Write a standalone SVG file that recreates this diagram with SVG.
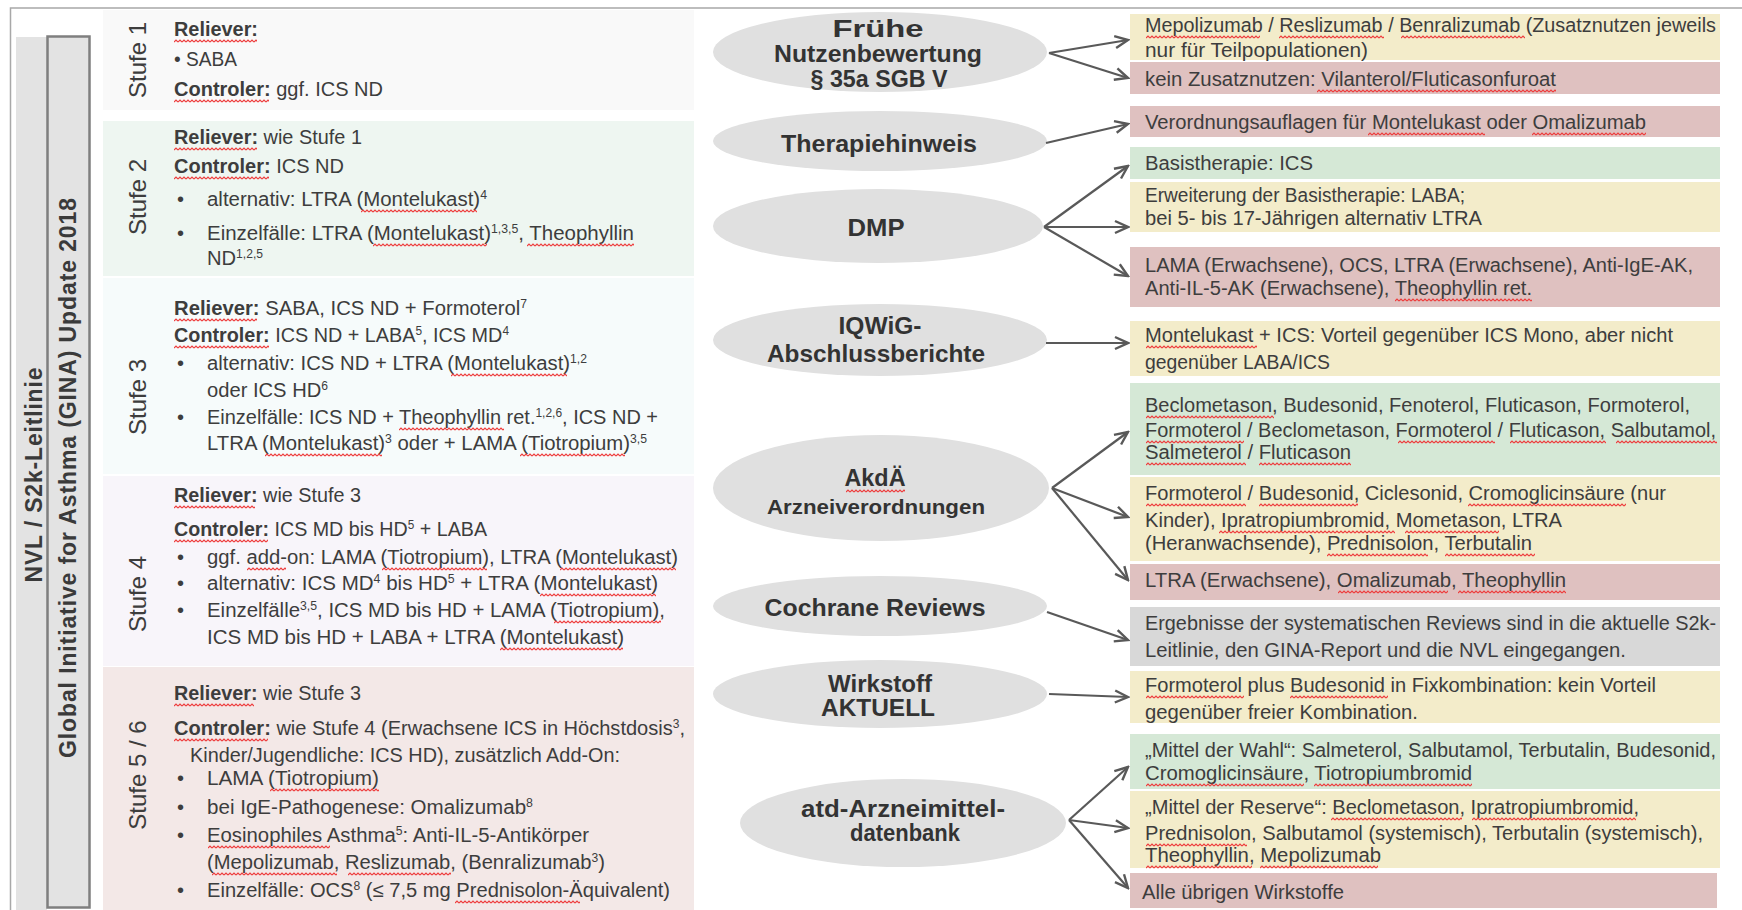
<svg xmlns="http://www.w3.org/2000/svg" width="1742" height="910" viewBox="0 0 1742 910">
<style>
.t{font-family:"Liberation Sans Narrow","Liberation Sans",Arial,sans-serif;font-size:20px;fill:#3d3d3d}
.b{font-weight:bold}
.s{font-size:12px}
.lab{font-family:"Liberation Sans",Arial,sans-serif;font-size:24px;fill:#3d3d3d}
.side{font-family:"Liberation Sans",Arial,sans-serif;font-size:23px;font-weight:bold;fill:#3a3a3a}
.el{fill:#e0e0e0}
.et{font-family:"Liberation Sans Narrow","Liberation Sans",Arial,sans-serif;font-size:24px;font-weight:bold;fill:#333;text-anchor:middle}
.y{fill:#f3ecca}.r{fill:#dfc1c0}.g{fill:#d5e8d6}.gr{fill:#d8d8d8}
.c{stroke:#595959;stroke-width:2.2;fill:none}
.sq{fill:url(#sqp)}
</style>
<defs>
<marker id="ah" markerUnits="userSpaceOnUse" markerWidth="18" markerHeight="18" viewBox="0 0 18 18" refX="16" refY="9" orient="auto">
<path d="M3,3 L16,9 L3,15" fill="none" stroke="#595959" stroke-width="2.4" stroke-linejoin="miter"/>
</marker>
<pattern id="sqp" patternUnits="userSpaceOnUse" width="4" height="4">
<path d="M0,3 L2,1 L4,3" fill="none" stroke="#ee3b3b" stroke-width="1.15"/>
</pattern>
</defs>
<rect x="0" y="0" width="1742" height="910" fill="#ffffff"/>
<rect x="10.5" y="8" width="1740" height="910" fill="none" stroke="#a8a8a8" stroke-width="1.5"/>

<g id="side-labels">
<rect x="16" y="37" width="31" height="880" fill="#e3e3e3"/>
<rect x="47.5" y="36.5" width="42" height="871" fill="#e3e3e3" stroke="#7f7f7f" stroke-width="2.5"/>
<text class="side" transform="translate(42,475) rotate(-90)" text-anchor="middle" textLength="215" lengthAdjust="spacing">NVL / S2k-Leitlinie</text>
<text class="side" transform="translate(76,478) rotate(-90)" text-anchor="middle" textLength="560" lengthAdjust="spacing">Global Initiative for Asthma (GINA) Update 2018</text>
</g>

<g id="stufe1">
<rect x="103" y="10" width="591" height="100" fill="#f9f9f9"/>
<text class="lab" transform="translate(146,60) rotate(-90)" text-anchor="middle">Stufe 1</text>
<text class="t b" x="174" y="36" textLength="84" lengthAdjust="spacingAndGlyphs">Reliever:</text>
<text class="t" x="174" y="66" textLength="63" lengthAdjust="spacingAndGlyphs">• SABA</text>
<text class="t" x="174" y="96" textLength="209" lengthAdjust="spacingAndGlyphs"><tspan class="b">Controler:</tspan> ggf. ICS ND</text>
</g>

<g id="stufe2">
<rect x="103" y="121" width="591" height="155" fill="#eef6f1"/>
<text class="lab" transform="translate(146,197) rotate(-90)" text-anchor="middle">Stufe 2</text>
<text class="t" x="174" y="144" textLength="188" lengthAdjust="spacingAndGlyphs"><tspan class="b">Reliever:</tspan> wie Stufe 1</text>
<text class="t" x="174" y="173" textLength="170" lengthAdjust="spacingAndGlyphs"><tspan class="b">Controler:</tspan> ICS ND</text>
<text class="t" x="177" y="206">•</text>
<text class="t" x="207" y="206" textLength="280" lengthAdjust="spacingAndGlyphs">alternativ: LTRA (Montelukast)<tspan class="s" baseline-shift="super">4</tspan></text>
<text class="t" x="177" y="240">•</text>
<text class="t" x="207" y="240" textLength="427" lengthAdjust="spacingAndGlyphs">Einzelfälle: LTRA (Montelukast)<tspan class="s" baseline-shift="super">1,3,5</tspan>, Theophyllin</text>
<text class="t" x="207" y="265" textLength="56" lengthAdjust="spacingAndGlyphs">ND<tspan class="s" baseline-shift="super">1,2,5</tspan></text>
</g>

<g id="stufe3">
<rect x="103" y="278" width="591" height="196" fill="#f6fbfb"/>
<text class="lab" transform="translate(146,397) rotate(-90)" text-anchor="middle">Stufe 3</text>
<text class="t" x="174" y="315" textLength="353" lengthAdjust="spacingAndGlyphs"><tspan class="b">Reliever:</tspan> SABA,  ICS ND + Formoterol<tspan class="s" baseline-shift="super">7</tspan></text>
<text class="t" x="174" y="342" textLength="335" lengthAdjust="spacingAndGlyphs"><tspan class="b">Controler:</tspan> ICS ND + LABA<tspan class="s" baseline-shift="super">5</tspan>, ICS MD<tspan class="s" baseline-shift="super">4</tspan></text>
<text class="t" x="177" y="370">•</text>
<text class="t" x="207" y="370" textLength="380" lengthAdjust="spacingAndGlyphs">alternativ: ICS ND + LTRA (Montelukast)<tspan class="s" baseline-shift="super">1,2</tspan></text>
<text class="t" x="207" y="397" textLength="121" lengthAdjust="spacingAndGlyphs">oder ICS HD<tspan class="s" baseline-shift="super">6</tspan></text>
<text class="t" x="177" y="424">•</text>
<text class="t" x="207" y="424" textLength="451" lengthAdjust="spacingAndGlyphs">Einzelfälle: ICS ND + Theophyllin ret.<tspan class="s" baseline-shift="super">1,2,6</tspan>, ICS ND +</text>
<text class="t" x="207" y="450" textLength="440" lengthAdjust="spacingAndGlyphs">LTRA (Montelukast)<tspan class="s" baseline-shift="super">3</tspan> oder + LAMA (Tiotropium)<tspan class="s" baseline-shift="super">3,5</tspan></text>
</g>

<g id="stufe4">
<rect x="103" y="476" width="591" height="190" fill="#f8f5fa"/>
<text class="lab" transform="translate(146,594) rotate(-90)" text-anchor="middle">Stufe 4</text>
<text class="t" x="174" y="502" textLength="187" lengthAdjust="spacingAndGlyphs"><tspan class="b">Reliever:</tspan> wie Stufe 3</text>
<text class="t" x="174" y="536" textLength="313" lengthAdjust="spacingAndGlyphs"><tspan class="b">Controler:</tspan> ICS MD  bis HD<tspan class="s" baseline-shift="super">5</tspan> + LABA</text>
<text class="t" x="177" y="564">•</text>
<text class="t" x="207" y="564" textLength="471" lengthAdjust="spacingAndGlyphs">ggf. add-on: LAMA (Tiotropium), LTRA (Montelukast)</text>
<text class="t" x="177" y="590">•</text>
<text class="t" x="207" y="590" textLength="451" lengthAdjust="spacingAndGlyphs">alternativ: ICS MD<tspan class="s" baseline-shift="super">4</tspan> bis HD<tspan class="s" baseline-shift="super">5</tspan> + LTRA (Montelukast)</text>
<text class="t" x="177" y="617">•</text>
<text class="t" x="207" y="617" textLength="458" lengthAdjust="spacingAndGlyphs">Einzelfälle<tspan class="s" baseline-shift="super">3,5</tspan>, ICS MD bis HD + LAMA   (Tiotropium),</text>
<text class="t" x="207" y="644" textLength="417" lengthAdjust="spacingAndGlyphs">ICS MD bis HD + LABA + LTRA (Montelukast)</text>
</g>

<g id="stufe56">
<rect x="103" y="667" width="591" height="243" fill="#f3e8e7"/>
<text class="lab" transform="translate(146,775) rotate(-90)" text-anchor="middle">Stufe 5 / 6</text>
<text class="t" x="174" y="700" textLength="187" lengthAdjust="spacingAndGlyphs"><tspan class="b">Reliever:</tspan> wie Stufe 3</text>
<text class="t" x="174" y="735" textLength="511" lengthAdjust="spacingAndGlyphs"><tspan class="b">Controler:</tspan> wie Stufe 4 (Erwachsene ICS in Höchstdosis<tspan class="s" baseline-shift="super">3</tspan>,</text>
<text class="t" x="190" y="762" textLength="430" lengthAdjust="spacingAndGlyphs">Kinder/Jugendliche: ICS HD), zusätzlich Add-On:</text>
<text class="t" x="177" y="785">•</text>
<text class="t" x="207" y="785" textLength="172" lengthAdjust="spacingAndGlyphs">LAMA (Tiotropium)</text>
<text class="t" x="177" y="814">•</text>
<text class="t" x="207" y="814" textLength="326" lengthAdjust="spacingAndGlyphs">bei IgE-Pathogenese: Omalizumab<tspan class="s" baseline-shift="super">8</tspan></text>
<text class="t" x="177" y="842">•</text>
<text class="t" x="207" y="842" textLength="382" lengthAdjust="spacingAndGlyphs">Eosinophiles Asthma<tspan class="s" baseline-shift="super">5</tspan>: Anti-IL-5-Antikörper</text>
<text class="t" x="207" y="869" textLength="398" lengthAdjust="spacingAndGlyphs">(Mepolizumab, Reslizumab, (Benralizumab<tspan class="s" baseline-shift="super">3</tspan>)</text>
<text class="t" x="177" y="897">•</text>
<text class="t" x="207" y="897" textLength="463" lengthAdjust="spacingAndGlyphs">Einzelfälle: OCS<tspan class="s" baseline-shift="super">8</tspan> (≤ 7,5 mg Prednisolon-Äquivalent)</text>
</g>

<g id="n-fnb">
<ellipse class="el" cx="880" cy="52" rx="167" ry="40"/>
<text class="et" x="878" y="37" textLength="91" lengthAdjust="spacingAndGlyphs">Frühe</text>
<text class="et" x="878" y="62" textLength="208" lengthAdjust="spacingAndGlyphs">Nutzenbewertung</text>
<text class="et" x="879" y="87" textLength="137" lengthAdjust="spacingAndGlyphs">§ 35a SGB V</text>
</g>
<g id="n-therapiehinweis">
<ellipse class="el" cx="880" cy="141" rx="167" ry="30"/>
<text class="et" x="879" y="152" textLength="196" lengthAdjust="spacingAndGlyphs">Therapiehinweis</text>
</g>
<g id="n-dmp">
<ellipse class="el" cx="878" cy="226" rx="165" ry="37"/>
<text class="et" x="876" y="236" textLength="57" lengthAdjust="spacingAndGlyphs">DMP</text>
</g>
<g id="n-iqwig">
<ellipse class="el" cx="880" cy="340" rx="167" ry="36"/>
<text class="et" x="880" y="334" textLength="83" lengthAdjust="spacingAndGlyphs">IQWiG-</text>
<text class="et" x="876" y="362" textLength="218" lengthAdjust="spacingAndGlyphs">Abschlussberichte</text>
</g>
<g id="n-akdae">
<ellipse class="el" cx="881" cy="488" rx="168" ry="53"/>
<text class="et" x="875" y="486" textLength="61" lengthAdjust="spacingAndGlyphs">AkdÄ</text>
<text class="et" x="876" y="514" style="font-size:21px" textLength="218" lengthAdjust="spacingAndGlyphs">Arzneiverordnungen</text>
</g>
<g id="n-cochrane">
<ellipse class="el" cx="880" cy="606" rx="167" ry="30"/>
<text class="et" x="875" y="616" textLength="221" lengthAdjust="spacingAndGlyphs">Cochrane Reviews</text>
</g>
<g id="n-wirkstoff">
<ellipse class="el" cx="880" cy="694" rx="167" ry="34"/>
<text class="et" x="880" y="692" textLength="104" lengthAdjust="spacingAndGlyphs">Wirkstoff</text>
<text class="et" x="878" y="716" textLength="114" lengthAdjust="spacingAndGlyphs">AKTUELL</text>
</g>
<g id="n-atd">
<ellipse class="el" cx="903" cy="823" rx="163" ry="44"/>
<text class="et" x="903" y="817" textLength="204" lengthAdjust="spacingAndGlyphs">atd-Arzneimittel-</text>
<text class="et" x="905" y="841" textLength="110" lengthAdjust="spacingAndGlyphs">datenbank</text>
</g>

<g id="b1"><rect class="y" x="1130" y="14" width="590" height="46"/>
<text class="t" x="1145" y="32" textLength="571" lengthAdjust="spacingAndGlyphs">Mepolizumab / Reslizumab / Benralizumab (Zusatznutzen jeweils</text>
<text class="t" x="1145" y="57" textLength="223" lengthAdjust="spacingAndGlyphs">nur für Teilpopulationen)</text></g>
<g id="b2"><rect class="r" x="1130" y="62" width="590" height="32"/>
<text class="t" x="1145" y="86" textLength="411" lengthAdjust="spacingAndGlyphs">kein Zusatznutzen: Vilanterol/Fluticasonfuroat</text></g>
<g id="b3"><rect class="r" x="1130" y="106" width="590" height="31"/>
<text class="t" x="1145" y="129" textLength="501" lengthAdjust="spacingAndGlyphs">Verordnungsauflagen für Montelukast oder Omalizumab</text></g>
<g id="b4"><rect class="g" x="1130" y="147" width="590" height="32"/>
<text class="t" x="1145" y="170" textLength="168" lengthAdjust="spacingAndGlyphs">Basistherapie: ICS</text></g>
<g id="b5"><rect class="y" x="1130" y="182" width="590" height="50"/>
<text class="t" x="1145" y="202" textLength="320" lengthAdjust="spacingAndGlyphs">Erweiterung der Basistherapie: LABA;</text>
<text class="t" x="1145" y="225" textLength="337" lengthAdjust="spacingAndGlyphs">bei 5- bis 17-Jährigen alternativ LTRA</text></g>
<g id="b6"><rect class="r" x="1130" y="247" width="590" height="60"/>
<text class="t" x="1145" y="272" textLength="548" lengthAdjust="spacingAndGlyphs">LAMA  (Erwachsene), OCS, LTRA (Erwachsene), Anti-IgE-AK,</text>
<text class="t" x="1145" y="295" textLength="387" lengthAdjust="spacingAndGlyphs">Anti-IL-5-AK (Erwachsene), Theophyllin ret.</text></g>
<g id="b7"><rect class="y" x="1130" y="321" width="590" height="55"/>
<text class="t" x="1145" y="342" textLength="528" lengthAdjust="spacingAndGlyphs">Montelukast + ICS: Vorteil gegenüber ICS Mono, aber nicht</text>
<text class="t" x="1145" y="369" textLength="185" lengthAdjust="spacingAndGlyphs">gegenüber LABA/ICS</text></g>
<g id="b8"><rect class="g" x="1130" y="383" width="590" height="92"/>
<text class="t" x="1145" y="412" textLength="545" lengthAdjust="spacingAndGlyphs">Beclometason, Budesonid, Fenoterol, Fluticason, Formoterol,</text>
<text class="t" x="1145" y="437" textLength="571" lengthAdjust="spacingAndGlyphs">Formoterol / Beclometason, Formoterol / Fluticason, Salbutamol,</text>
<text class="t" x="1145" y="459" textLength="206" lengthAdjust="spacingAndGlyphs">Salmeterol / Fluticason</text></g>
<g id="b9"><rect class="y" x="1130" y="477" width="590" height="84"/>
<text class="t" x="1145" y="500" textLength="521" lengthAdjust="spacingAndGlyphs">Formoterol / Budesonid, Ciclesonid, Cromoglicinsäure (nur</text>
<text class="t" x="1145" y="527" textLength="417" lengthAdjust="spacingAndGlyphs">Kinder), Ipratropiumbromid, Mometason, LTRA</text>
<text class="t" x="1145" y="550" textLength="387" lengthAdjust="spacingAndGlyphs">(Heranwachsende), Prednisolon, Terbutalin</text></g>
<g id="b10"><rect class="r" x="1130" y="564" width="590" height="36"/>
<text class="t" x="1145" y="587" textLength="421" lengthAdjust="spacingAndGlyphs">LTRA (Erwachsene), Omalizumab, Theophyllin</text></g>
<g id="b11"><rect class="gr" x="1130" y="607" width="590" height="59"/>
<text class="t" x="1145" y="630" textLength="571" lengthAdjust="spacingAndGlyphs">Ergebnisse der systematischen Reviews sind in die aktuelle S2k-</text>
<text class="t" x="1145" y="657" textLength="481" lengthAdjust="spacingAndGlyphs">Leitlinie, den GINA-Report und die NVL eingegangen.</text></g>
<g id="b12"><rect class="y" x="1130" y="671" width="590" height="52"/>
<text class="t" x="1145" y="692" textLength="511" lengthAdjust="spacingAndGlyphs">Formoterol plus Budesonid in Fixkombination: kein Vorteil</text>
<text class="t" x="1145" y="719" textLength="273" lengthAdjust="spacingAndGlyphs">gegenüber freier Kombination.</text></g>
<g id="b13"><rect class="g" x="1130" y="734" width="590" height="55"/>
<text class="t" x="1145" y="757" textLength="571" lengthAdjust="spacingAndGlyphs">„Mittel der Wahl“: Salmeterol, Salbutamol, Terbutalin, Budesonid,</text>
<text class="t" x="1145" y="780" textLength="327" lengthAdjust="spacingAndGlyphs">Cromoglicinsäure, Tiotropiumbromid</text></g>
<g id="b14"><rect class="y" x="1130" y="791" width="590" height="77"/>
<text class="t" x="1145" y="814" textLength="494" lengthAdjust="spacingAndGlyphs">„Mittel der Reserve“: Beclometason, Ipratropiumbromid,</text>
<text class="t" x="1145" y="840" textLength="558" lengthAdjust="spacingAndGlyphs">Prednisolon, Salbutamol (systemisch), Terbutalin (systemisch),</text>
<text class="t" x="1145" y="862" textLength="236" lengthAdjust="spacingAndGlyphs">Theophyllin, Mepolizumab</text></g>
<g id="b15"><rect class="r" x="1130" y="873" width="587" height="35"/>
<text class="t" x="1142" y="899" textLength="202" lengthAdjust="spacingAndGlyphs">Alle übrigen Wirkstoffe</text></g>

<g id="connectors">
<path class="c" marker-end="url(#ah)" d="M1049,53 L1128,40"/>
<path class="c" marker-end="url(#ah)" d="M1049,53 L1128,78"/>
<path class="c" marker-end="url(#ah)" d="M1046,143 L1128,124"/>
<path class="c" marker-end="url(#ah)" d="M1044,227 L1128,166"/>
<path class="c" marker-end="url(#ah)" d="M1044,227 L1128,227"/>
<path class="c" marker-end="url(#ah)" d="M1044,227 L1128,276"/>
<path class="c" marker-end="url(#ah)" d="M1046,343 L1128,343"/>
<path class="c" marker-end="url(#ah)" d="M1052,488 L1128,432"/>
<path class="c" marker-end="url(#ah)" d="M1052,488 L1128,517"/>
<path class="c" marker-end="url(#ah)" d="M1052,488 L1128,580"/>
<path class="c" marker-end="url(#ah)" d="M1047,612 L1128,640"/>
<path class="c" marker-end="url(#ah)" d="M1049,694 L1128,697"/>
<path class="c" marker-end="url(#ah)" d="M1069,820 L1128,767"/>
<path class="c" marker-end="url(#ah)" d="M1069,820 L1128,828"/>
<path class="c" marker-end="url(#ah)" d="M1069,820 L1128,888"/>
</g>

<g id="spellcheck">
<rect class="sq" width="83" height="4" transform="translate(174,39)"/>
<rect class="sq" width="95" height="4" transform="translate(174,99)"/>
<rect class="sq" width="83" height="4" transform="translate(174,147)"/>
<rect class="sq" width="95" height="4" transform="translate(174,176)"/>
<rect class="sq" width="116" height="4" transform="translate(361,209)"/>
<rect class="sq" width="114" height="4" transform="translate(373,243)"/>
<rect class="sq" width="107" height="4" transform="translate(527,243)"/>
<rect class="sq" width="83" height="4" transform="translate(174,318)"/>
<rect class="sq" width="95" height="4" transform="translate(174,345)"/>
<rect class="sq" width="116" height="4" transform="translate(451,373)"/>
<rect class="sq" width="105" height="4" transform="translate(399,427)"/>
<rect class="sq" width="117" height="4" transform="translate(265,453)"/>
<rect class="sq" width="105" height="4" transform="translate(520,453)"/>
<rect class="sq" width="81" height="4" transform="translate(174,505)"/>
<rect class="sq" width="94" height="4" transform="translate(174,539)"/>
<rect class="sq" width="39" height="4" transform="translate(247,567)"/>
<rect class="sq" width="105" height="4" transform="translate(382,567)"/>
<rect class="sq" width="116" height="4" transform="translate(560,567)"/>
<rect class="sq" width="116" height="4" transform="translate(540,593)"/>
<rect class="sq" width="107" height="4" transform="translate(554,620)"/>
<rect class="sq" width="123" height="4" transform="translate(500,647)"/>
<rect class="sq" width="80" height="4" transform="translate(174,703)"/>
<rect class="sq" width="94" height="4" transform="translate(174,738)"/>
<rect class="sq" width="109" height="4" transform="translate(270,788)"/>
<rect class="sq" width="122" height="4" transform="translate(208,845)"/>
<rect class="sq" width="125" height="4" transform="translate(212,872)"/>
<rect class="sq" width="103" height="4" transform="translate(348,872)"/>
<rect class="sq" width="125" height="4" transform="translate(455,900)"/>
<rect class="sq" width="59" height="4" transform="translate(846,489)"/>
<rect class="sq" width="114" height="4" transform="translate(1146,35)"/>
<rect class="sq" width="105" height="4" transform="translate(1279,35)"/>
<rect class="sq" width="124" height="4" transform="translate(1401,35)"/>
<rect class="sq" width="239" height="4" transform="translate(1317,89)"/>
<rect class="sq" width="117" height="4" transform="translate(1368,132)"/>
<rect class="sq" width="114" height="4" transform="translate(1532,132)"/>
<rect class="sq" width="137" height="4" transform="translate(1395,298)"/>
<rect class="sq" width="111" height="4" transform="translate(1146,345)"/>
<rect class="sq" width="128" height="4" transform="translate(1146,415)"/>
<rect class="sq" width="98" height="4" transform="translate(1146,440)"/>
<rect class="sq" width="97" height="4" transform="translate(1398,440)"/>
<rect class="sq" width="96" height="4" transform="translate(1510,440)"/>
<rect class="sq" width="101" height="4" transform="translate(1616,440)"/>
<rect class="sq" width="100" height="4" transform="translate(1146,462)"/>
<rect class="sq" width="92" height="4" transform="translate(1259,462)"/>
<rect class="sq" width="100" height="4" transform="translate(1146,503)"/>
<rect class="sq" width="99" height="4" transform="translate(1259,503)"/>
<rect class="sq" width="158" height="4" transform="translate(1468,503)"/>
<rect class="sq" width="176" height="4" transform="translate(1219,530)"/>
<rect class="sq" width="94" height="4" transform="translate(1405,530)"/>
<rect class="sq" width="101" height="4" transform="translate(1327,553)"/>
<rect class="sq" width="90" height="4" transform="translate(1445,553)"/>
<rect class="sq" width="110" height="4" transform="translate(1338,590)"/>
<rect class="sq" width="108" height="4" transform="translate(1458,590)"/>
<rect class="sq" width="98" height="4" transform="translate(1146,695)"/>
<rect class="sq" width="98" height="4" transform="translate(1290,695)"/>
<rect class="sq" width="158" height="4" transform="translate(1146,783)"/>
<rect class="sq" width="158" height="4" transform="translate(1314,783)"/>
<rect class="sq" width="131" height="4" transform="translate(1331,817)"/>
<rect class="sq" width="164" height="4" transform="translate(1472,817)"/>
<rect class="sq" width="101" height="4" transform="translate(1146,843)"/>
<rect class="sq" width="106" height="4" transform="translate(1146,865)"/>
<rect class="sq" width="118" height="4" transform="translate(1260,865)"/>
</g>
</svg>
